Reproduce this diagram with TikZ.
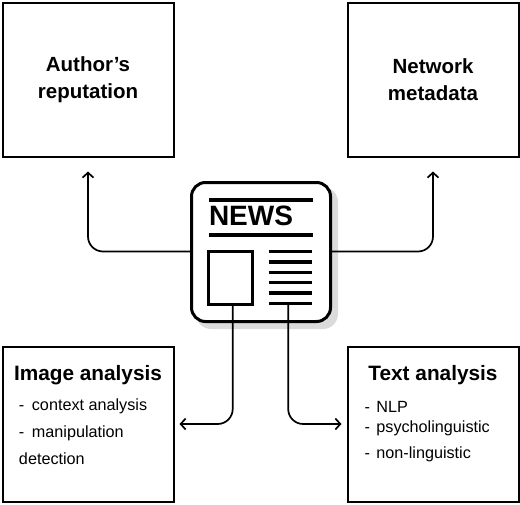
\documentclass[tikz,border=0pt]{standalone}
\usepackage{fontspec}
\setmainfont{Liberation Sans}
\usetikzlibrary{arrows.meta,positioning}

\begin{document}
\begin{tikzpicture}[
outer sep=0pt,
infobox/.style={draw, line width=2pt, minimum width=171pt, minimum height=154pt, align=center,
font=\fontsize{20.5}{27}\selectfont\bfseries, inner sep=0pt},
newsbox/.style={draw, line width=3pt, rounded corners=14pt, minimum width=139pt, minimum height=139pt,
fill=white, inner sep=0pt},
newsshade/.style={fill=black!14, rounded corners=15pt, minimum width=142pt, minimum height=142pt, inner sep=0pt},
newspic/.style={draw, line width=3pt, minimum width=44pt, minimum height=52.5pt, inner sep=0pt},
newsrule/.style={line width=3.4pt},
boxtitle/.style={anchor=base, font=\fontsize{20.8}{24}\selectfont\bfseries, inner sep=0pt},
boxitem/.style={anchor=base west, font=\fontsize{16.2}{20}\selectfont, inner sep=0pt},
newsarrow/.style={-{Straight Barb[length=5pt,width=11pt]}, line width=1.7pt, rounded corners=15pt}
]
\useasboundingbox (0pt,0pt) rectangle (520pt,-504pt);

\node[newsshade] (newsback) at (267pt,-258pt) {};
\node[newsbox] (news) at (261pt,-252pt) {};
\node[infobox, above left=26pt and 18pt of news] (author) {Author’s\\reputation};
\node[infobox, above right=26pt and 17pt of news] (network) {Network\\metadata};
\node[infobox, minimum height=155pt, below left=25pt and 18pt of news] (image) {};
\node[infobox, minimum height=155pt, below right=25pt and 17pt of news] (text) {};

\node[anchor=base west, font=\fontsize{28}{30}\selectfont\bfseries, inner sep=0pt]
  (newstitle) at ([xshift=17.5pt,yshift=-43.2pt]news.north west) {NEWS};
\draw[line width=4pt] ([xshift=17.5pt,yshift=-17.5pt]news.north west) -- ++(103.5pt,0);
\draw[line width=4pt] ([xshift=17.5pt,yshift=-52.2pt]news.north west) -- ++(103.5pt,0);
\node[newspic, below right=69pt and 16.7pt of news.north west, anchor=north west] (newsimg) {};
\foreach \i in {0,...,5}
  \draw[newsrule] ([xshift=16.5pt,yshift={-\i*10.4pt}]newsimg.north east) -- ++(43.5pt,0) coordinate (rule\i);

\node[boxtitle] (imagetitle) at ([yshift=-34.3pt]image.north) {Image analysis};
\node[boxitem] (imagea) at ([xshift=16.5pt,yshift=-64.3pt]image.north west) {- \hspace{3pt}context analysis};
\node[boxitem] (imageb) at ([xshift=16.5pt,yshift=-91.3pt]image.north west) {- \hspace{3pt}manipulation};
\node[boxitem] (imagec) at ([xshift=16.5pt,yshift=-118.3pt]image.north west) {detection};

\node[boxtitle] (texttitle) at ([yshift=-34.3pt]text.north) {Text analysis};
\node[boxitem] (texta) at ([xshift=17pt,yshift=-66.3pt]text.north west) {- \hspace{2pt}NLP};
\node[boxitem] (textb) at ([xshift=17pt,yshift=-86.3pt]text.north west) {- \hspace{2pt}psycholinguistic};
\node[boxitem] (textc) at ([xshift=17pt,yshift=-112.3pt]text.north west) {- \hspace{2pt}non-linguistic};

\draw[newsarrow, shorten >=15pt] (news.west |- newsimg.north) -| (author.south);
\draw[newsarrow, shorten >=15pt] (news.east |- newsimg.north) -| (network.south);
\draw[newsarrow, shorten >=6pt] ([xshift=2.5pt]newsimg.south) |- (image.east);
\draw[newsarrow, shorten >=6pt] ([xshift=-24pt]rule5) |- (text.west);
\end{tikzpicture}
\end{document}
